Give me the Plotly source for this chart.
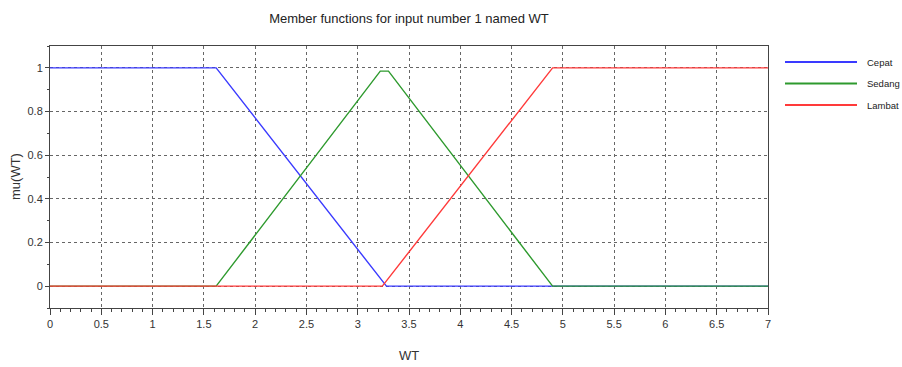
import plotly.graph_objects as go

# Membership function vertices
names = ["Cepat", "Sedang", "Lambat"]
colors = ["#3a3aff", "#2e9a2e", "#ff3a3a"]
cepat_x = [0, 1.62, 3.28, 7]
cepat_y = [1, 1, 0, 0]
sedang_x = [0, 1.62, 3.22, 3.30, 4.90, 7]
sedang_y = [0, 0, 0.985, 0.985, 0, 0]
lambat_x = [0, 3.24, 4.90, 7]
lambat_y = [0, 0, 1, 1]
series_x = [cepat_x, sedang_x, lambat_x]
series_y = [cepat_y, sedang_y, lambat_y]

x_ticks = [i * 0.5 for i in range(15)]
x_tick_labels = ["0", "0.5", "1", "1.5", "2", "2.5", "3", "3.5", "4", "4.5", "5", "5.5", "6", "6.5", "7"]
y_ticks = [0, 0.2, 0.4, 0.6, 0.8, 1]
y_tick_labels = ["0", "0.2", "0.4", "0.6", "0.8", "1"]

NARROW = "Liberation Sans Narrow, Arial Narrow, Liberation Sans, sans-serif"

fig = go.Figure()
for n, c, xs, ys in zip(names, colors, series_x, series_y):
    fig.add_trace(go.Scatter(x=xs, y=ys, mode="lines", name=n,
                             line=dict(color=c, width=1.4), showlegend=False))

# Manual legend (long line samples as in the reference)
L, R, T, B = 50, 134, 46, 59
W, H = 902 - L - R, 367 - T - B
leg_y_px = [62, 83.5, 105]
for n, c, py in zip(names, colors, leg_y_px):
    yp = (367 - B - py) / H
    fig.add_shape(type="line", xref="paper", yref="paper",
                  x0=(785 - L) / W, x1=(857 - L) / W, y0=yp, y1=yp,
                  line=dict(color=c, width=2))
    fig.add_annotation(xref="paper", yref="paper", x=(865 - L) / W, y=yp,
                       text=n, showarrow=False, xanchor="left", yanchor="middle",
                       font=dict(family=NARROW, size=9.5, color="#222"))

# axis titles placed as text
fig.add_annotation(xref="paper", yref="paper", x=(409 - L) / W, y=(367 - B - 355) / H,
                   text="WT", showarrow=False, xanchor="center", yanchor="middle",
                   font=dict(family=NARROW, size=13, color="#333"))
fig.add_annotation(xref="paper", yref="paper", x=(15 - L) / W, y=(367 - B - 177) / H,
                   text="mu(WT)", showarrow=False, xanchor="center", yanchor="middle",
                   textangle=-90, font=dict(family=NARROW, size=13, color="#333"))

axis_common = dict(showline=True, linecolor="#444", linewidth=1, mirror=True,
                   showgrid=True, gridcolor="#666", griddash="dot", gridwidth=1,
                   zeroline=False, ticks="outside", tickcolor="#444", automargin=False,
                   tickfont=dict(family=NARROW, size=11, color="#333"))

fig.update_xaxes(range=[0, 7], tickvals=x_ticks, ticktext=x_tick_labels,
                 ticklen=6, tickwidth=1,
                 minor=dict(dtick=0.1, ticks="outside", ticklen=3, tickcolor="#444", showgrid=False),
                 **axis_common)
fig.update_yaxes(range=[-0.1, 1.1], tickvals=y_ticks, ticktext=y_tick_labels,
                 ticklen=4, tickwidth=1,
                 minor=dict(dtick=0.1, tick0=0, ticks="outside", ticklen=2, tickcolor="#444", showgrid=False),
                 **axis_common)

fig.update_layout(
    width=902, height=367,
    margin=dict(l=L, r=R, t=T, b=B),
    paper_bgcolor="white", plot_bgcolor="white",
    title=dict(text="Member functions for input number 1 named WT",
               x=(L + W / 2) / 902, xanchor="center", y=1 - 18 / 367, yanchor="middle",
               font=dict(family=NARROW, size=13, color="#222")),
)

fig.write_html("out.html")
